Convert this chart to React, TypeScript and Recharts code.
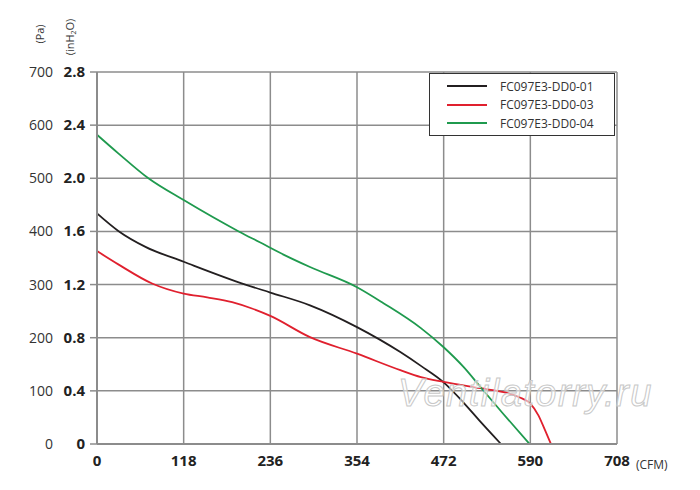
import { LineChart, Line, XAxis, YAxis, CartesianGrid } from "recharts";

// x in CFM, y in Pa
const fc01 = [
  { x: 0, y: 434 }, { x: 29, y: 401 }, { x: 66, y: 371 },
  { x: 118, y: 343 }, { x: 202, y: 300 }, { x: 236, y: 285 }, { x: 290, y: 261 },
  { x: 354, y: 220 }, { x: 413, y: 173 }, { x: 441, y: 147 }, { x: 472, y: 116 },
  { x: 499, y: 78 }, { x: 522, y: 42 }, { x: 550, y: 0 },
];

const fc03 = [
  { x: 0, y: 363 }, { x: 29, y: 338 }, { x: 75, y: 302 }, { x: 118, y: 283 },
  { x: 150, y: 276 }, { x: 184, y: 267 }, { x: 211, y: 255 }, { x: 236, y: 241 },
  { x: 290, y: 201 }, { x: 354, y: 170 }, { x: 413, y: 139 }, { x: 441, y: 126 },
  { x: 472, y: 117 }, { x: 522, y: 105 }, { x: 558, y: 96 }, { x: 575, y: 88 },
  { x: 590, y: 76 }, { x: 601, y: 54 }, { x: 610, y: 26 }, { x: 618, y: 0 },
];

const fc04 = [
  { x: 0, y: 582 }, { x: 29, y: 547 }, { x: 70, y: 500 }, { x: 118, y: 459 },
  { x: 193, y: 400 }, { x: 221, y: 380 }, { x: 256, y: 355 }, { x: 290, y: 333 },
  { x: 354, y: 295 }, { x: 390, y: 265 }, { x: 441, y: 218 }, { x: 472, y: 182 },
  { x: 499, y: 145 }, { x: 524, y: 104 }, { x: 553, y: 57 }, { x: 589, y: 0 },
];

const xTicks = [0, 118, 236, 354, 472, 590, 708];
const paTicks = [0, 100, 200, 300, 400, 500, 600, 700];
const inh2oLabels = ["0", "0.4", "0.8", "1.2", "1.6", "2.0", "2.4", "2.8"];

const series = [
  { name: "FC097E3-DD0-01", data: fc01, color: "#231f20" },
  { name: "FC097E3-DD0-03", data: fc03, color: "#e0202e" },
  { name: "FC097E3-DD0-04", data: fc04, color: "#1f9a4e" },
];

const FONT = "'Open Sans', 'Noto Sans', sans-serif";

function YTick(props: any) {
  const { y, payload, index } = props;
  return (
    <g>
      <text x={53} y={y} dy={5} textAnchor="end" fontSize={14} fill="#333" fontFamily={FONT}>
        {payload.value}
      </text>
      <text x={85} y={y} dy={5} textAnchor="end" fontSize={15} fontWeight="bold" fill="#222" fontFamily={FONT}>
        {inh2oLabels[index]}
      </text>
    </g>
  );
}

function XTick(props: any) {
  const { x, y, payload } = props;
  return (
    <text x={x} y={y} dy={14} textAnchor="middle" fontSize={15} fontWeight="bold" fill="#222" fontFamily={FONT}>
      {payload.value}
    </text>
  );
}

function LegendBox() {
  return (
    <div
      style={{
        position: "absolute",
        left: 429,
        top: 73,
        border: "1px solid #333",
        background: "#fff",
        width: 186,
        height: 63,
        boxSizing: "border-box",
        paddingTop: 3,
      }}
    >
      {series.map((s) => (
        <div key={s.name} style={{ display: "flex", alignItems: "center", height: 18.5 }}>
          <div style={{ width: 40, height: 2, background: s.color, marginLeft: 17, marginRight: 13 }} />
          <span style={{ fontFamily: FONT, fontSize: 12, color: "#333" }}>{s.name}</span>
        </div>
      ))}
    </div>
  );
}

export default function App() {
  return (
    <div style={{ position: "absolute", left: 0, top: 0, width: 700, height: 490, background: "#fff" }}>
      <LineChart width={700} height={490} margin={{ top: 72, right: 83, bottom: 16, left: 0 }}>
        <CartesianGrid stroke="#8c8c8c" strokeWidth={1.5} />
        <XAxis
          type="number"
          dataKey="x"
          domain={[0, 708]}
          ticks={xTicks}
          height={30}
          axisLine={{ stroke: "#8c8c8c", strokeWidth: 2 }}
          tickLine={false}
          tick={<XTick />}
        />
        <YAxis
          type="number"
          dataKey="y"
          domain={[0, 700]}
          ticks={paTicks}
          width={97}
          tickSize={7}
          axisLine={{ stroke: "#8c8c8c", strokeWidth: 2 }}
          tickLine={{ stroke: "#8c8c8c", strokeWidth: 1.5 }}
          tick={<YTick />}
        />
        {series.map((s) => (
          <Line
            key={s.name}
            name={s.name}
            data={s.data}
            dataKey="y"
            type="monotone"
            stroke={s.color}
            strokeWidth={1.8}
            dot={false}
            isAnimationActive={false}
          />
        ))}
      </LineChart>
      <LegendBox />
      <svg width={700} height={490} style={{ position: "absolute", left: 0, top: 0, pointerEvents: "none" }}>
        <text
          transform="translate(44,34) rotate(-90)"
          textAnchor="middle"
          fontSize={11}
          fill="#333"
          fontFamily={FONT}
        >
          (Pa)
        </text>
        <text
          transform="translate(74,37) rotate(-90)"
          textAnchor="middle"
          fontSize={11}
          fill="#333"
          fontFamily={FONT}
        >
          (inH<tspan fontSize={7} dy={2}>2</tspan><tspan dy={-2}>O)</tspan>
        </text>
        <text x={636} y={469} fontSize={12} fill="#333" fontFamily={FONT}>
          (CFM)
        </text>
        <text
          x={398}
          y={406}
          fontSize={38}
          fontStyle="italic"
          fontFamily="'Liberation Sans', Arial, sans-serif"
          fill="#ffffff"
          fillOpacity={0.55}
          stroke="#c8c8c8"
          strokeWidth={1}
          letterSpacing={1.5}
        >
          Ventilatorry.ru
        </text>
      </svg>
    </div>
  );
}
